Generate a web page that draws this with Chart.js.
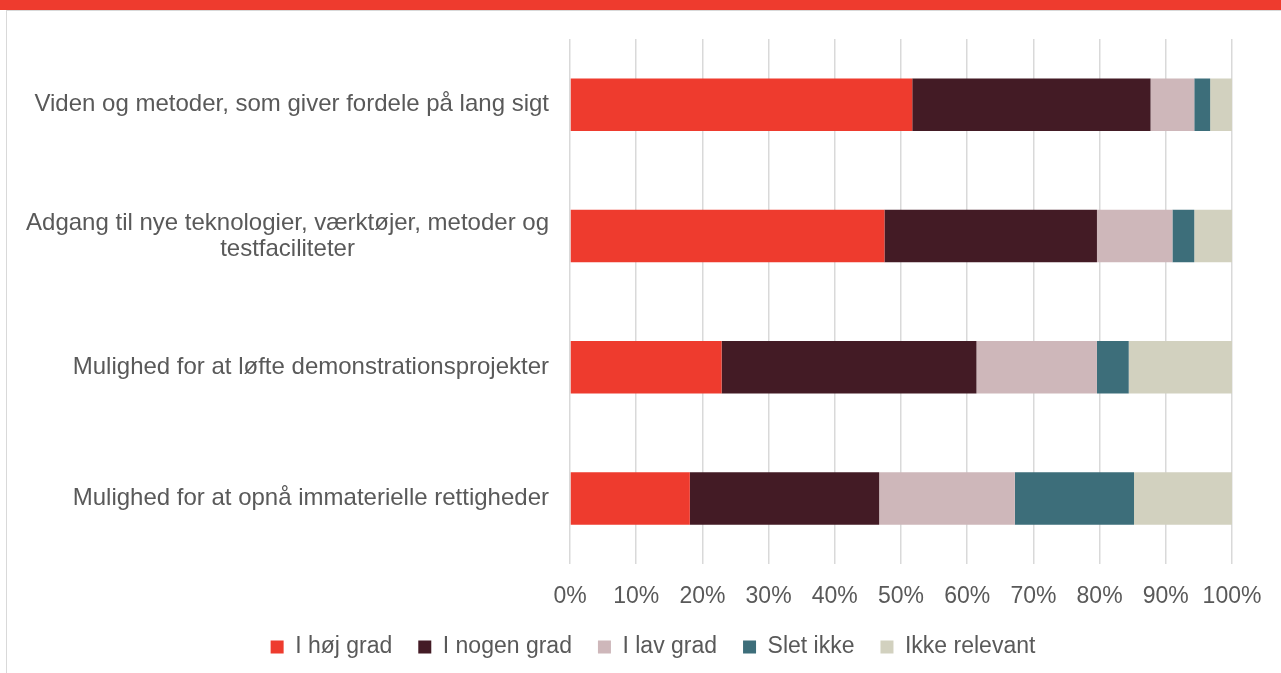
<!DOCTYPE html>
<html>
<head>
<meta charset="utf-8">
<script src="https://cdn.jsdelivr.net/npm/chart.js@4"></script>
<style>
    body { margin: 0; background: #fff; }
    .topBand { position: absolute; left: 0; top: 0; width: 1281px; height: 10px; background: #EE3B2E; }
    .frame { position: absolute; left: 6px; top: 10px; width: 1275px; height: 663px; border-left: 1px solid #d9d9d9; border-top: 1px solid #d9d9d9; }
    #chart { position: absolute; left: 0; top: 0; }
</style>
</head>
<body>
<div class="topBand"></div>
<div class="frame"></div>
<canvas id="chart" width="1281" height="673"></canvas>
<script>
// Categories (a multi-line label is an array of lines)
const categories = [
    'Viden og metoder, som giver fordele på lang sigt',
    ['Adgang til nye teknologier, værktøjer, metoder og', 'testfaciliteter'],
    'Mulighed for at løfte demonstrationsprojekter',
    'Mulighed for at opnå immaterielle rettigheder'
];

// Series values (percent of respondents)
const hoejGrad = [51.7, 47.5, 22.9, 18.1];
const nogenGrad = [36.0, 32.1, 38.5, 28.6];
const lavGrad = [6.6, 11.4, 18.2, 20.5];
const sletIkke = [2.4, 3.3, 4.8, 18.0];
const ikkeRelevant = [3.3, 5.7, 15.6, 14.8];

const seriesNames = ['I høj grad', 'I nogen grad', 'I lav grad', 'Slet ikke', 'Ikke relevant'];
const seriesColors = ['#EE3B2E', '#431B25', '#CEB7BA', '#3D6E7A', '#D2D1BF'];

// Tick labels for x axis
const xTicks = [0, 10, 20, 30, 40, 50, 60, 70, 80, 90, 100];

const textColor = '#595959';
const fontFamily = '"Liberation Sans", Arial, sans-serif';
const fontSize = 23;

// Draws the category labels: right aligned block, lines centered inside it
const categoryLabels = {
    id: 'categoryLabels',
    afterDraw(chart) {
        const ctx = chart.ctx;
        const yScale = chart.scales.y;
        const right = chart.chartArea.left - 21;
        const lineH = 26;
        ctx.save();
        ctx.font = '24px ' + fontFamily;
        ctx.fillStyle = textColor;
        ctx.textAlign = 'center';
        ctx.textBaseline = 'middle';
        categories.forEach((label, i) => {
            const lines = Array.isArray(label) ? label : [label];
            const maxW = Math.max(...lines.map(l => ctx.measureText(l).width));
            const cx = right - maxW / 2;
            const yc = yScale.getPixelForValue(i);
            lines.forEach((line, j) => {
                ctx.fillText(line, cx, yc + (j - (lines.length - 1) / 2) * lineH);
            });
        });
        ctx.restore();
    }
};

const allSeries = [hoejGrad, nogenGrad, lavGrad, sletIkke, ikkeRelevant];

new Chart(document.getElementById('chart'), {
    type: 'bar',
    data: {
        labels: categories,
        datasets: allSeries.map((values, i) => ({
            label: seriesNames[i],
            data: values,
            backgroundColor: seriesColors[i],
            borderWidth: 0,
            barPercentage: 0.4,
            categoryPercentage: 1
        }))
    },
    options: {
        indexAxis: 'y',
        responsive: false,
        animation: false,
        devicePixelRatio: 1,
        layout: {
            padding: { left: 74, right: 49, top: 39, bottom: 4.5 }
        },
        scales: {
            x: {
                stacked: true,
                min: xTicks[0],
                max: xTicks[xTicks.length - 1],
                afterBuildTicks: (scale) => {
                    scale.ticks = xTicks.map(v => ({ value: v }));
                },
                afterFit: (scale) => { scale.height = 45.5; },
                grid: { color: '#D9D9D9', lineWidth: 1.5, drawTicks: false },
                border: { display: false },
                ticks: {
                    color: textColor,
                    font: { family: fontFamily, size: fontSize },
                    padding: 18.5,
                    maxRotation: 0,
                    callback: (v) => v + '%'
                }
            },
            y: {
                stacked: true,
                grid: { display: false },
                border: { display: false },
                ticks: { display: false },
                afterFit: (scale) => { scale.width = 496; }
            }
        },
        plugins: {
            legend: {
                position: 'bottom',
                labels: {
                    color: textColor,
                    font: { family: fontFamily, size: fontSize },
                    boxWidth: 13,
                    boxHeight: 13,
                    padding: 26
                }
            },
            tooltip: { enabled: false }
        }
    },
    plugins: [categoryLabels]
});
</script>
</body>
</html>
